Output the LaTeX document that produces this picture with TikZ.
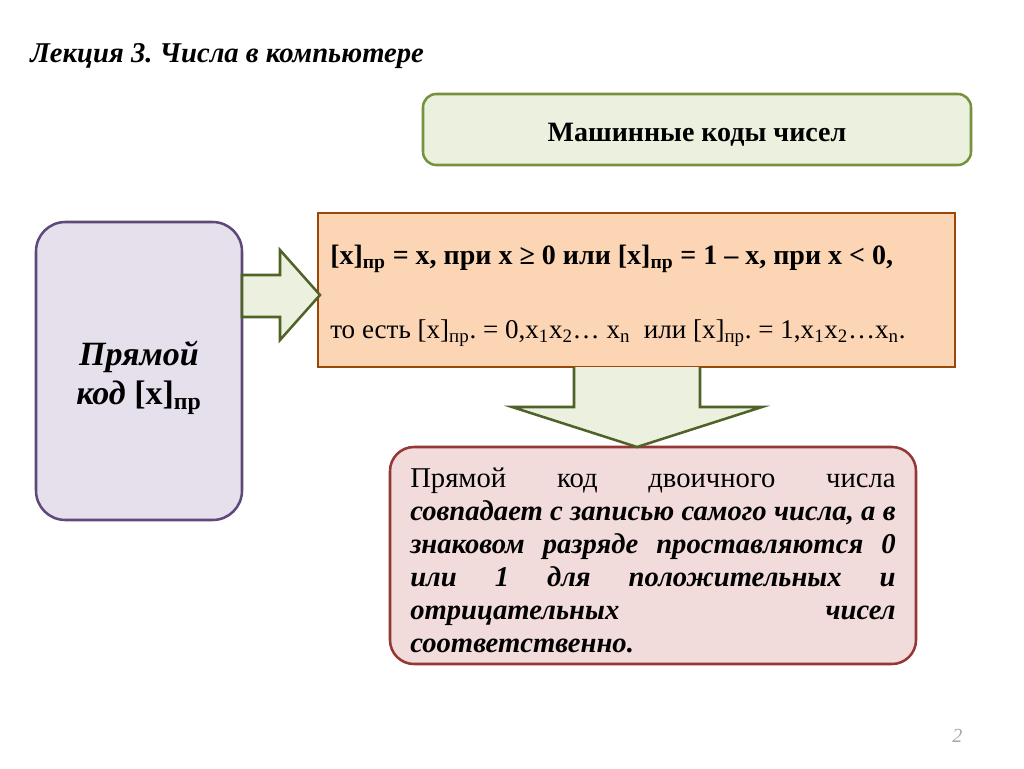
\documentclass[tikz,border=0pt]{standalone}
\usepackage{fontspec}
\setmainfont{Liberation Serif}
\frenchspacing
\definecolor{grfill}{HTML}{EBF1DE}
\definecolor{grline}{HTML}{76923C}
\definecolor{arline}{HTML}{4F6228}
\definecolor{pufill}{HTML}{E5E0EC}
\definecolor{puline}{HTML}{5F497A}
\definecolor{orfill}{HTML}{FCD5B5}
\definecolor{orline}{HTML}{984807}
\definecolor{rdfill}{HTML}{F2DCDB}
\definecolor{rdline}{HTML}{953735}
\definecolor{pgnum}{HTML}{A6A6A6}
\begin{document}
\begin{tikzpicture}[x=0.75pt,y=-0.75pt,
  box/.style={draw,line width=1.9pt,inner sep=0pt},
  blockarrow/.style={draw=arline,fill=grfill,line width=1.9pt,line join=miter},
  txt/.style={inner sep=0pt,anchor=base west}]
\useasboundingbox (0,0) rectangle (1024,768);
% boxes
\node[box,draw=grline,fill=grfill,rounded corners=10pt,minimum width=411pt,minimum height=53.25pt] (title2) at (697,129.5) {};
\node[box,draw=puline,fill=pufill,rounded corners=22pt,minimum width=154.5pt,minimum height=223.5pt] (direct) at (139,371) {};
\node[box,draw=orline,fill=orfill,minimum width=477.75pt,minimum height=115.5pt] (formula) at (636.5,290) {};
\node[box,draw=rdline,fill=rdfill,rounded corners=18pt,minimum width=394.5pt,minimum height=162.75pt] (remark) at (653,555.5) {};
% arrows
\draw[blockarrow] (242,275) -- (280,275) -- (280,250) -- (320,295) -- (280,340) -- (280,317) -- (242,317) -- cycle;
\draw[blockarrow] (574,367) -- (574,407) -- (512,407) -- (637,447) -- (762,407) -- (700,407) -- (700,367);
% texts
\node[txt] (lec) at (30,62) {\fontsize{21.5}{25}\selectfont\bfseries\itshape Лекция 3. Числа в компьютере};
\node[inner sep=0pt] (mk) at (697,135) {\fontsize{21}{25}\selectfont\bfseries Машинные коды чисел};
\node[inner sep=0pt,align=center,font=\fontsize{25.5}{29}\selectfont\bfseries\itshape] (pk) at (139,378) {Прямой\\код \upshape[x]\textsubscript{пр}};
\node[txt] (f1) at (330,264) {\fontsize{21}{25}\selectfont\bfseries [x]\textsubscript{пр} = x, при x ≥ 0 или [x]\textsubscript{пр} = 1 – x, при x < 0,};
\node[txt] (f2) at (330,338) {\fontsize{20.3}{25}\selectfont то есть [x]\textsubscript{пр}. = 0,x\textsubscript{1}x\textsubscript{2}… x\textsubscript{n}\ \ или [x]\textsubscript{пр}. = 1,x\textsubscript{1}x\textsubscript{2}…x\textsubscript{n}.};
\node[inner sep=0pt,anchor=north west] (rt) at (410,468) {\parbox[t]{364pt}{\fontsize{21.5}{24.75}\selectfont
Прямой код двоичного числа\linebreak
\bfseries\itshape совпадает с записью самого числа, а в\linebreak
знаковом разряде проставляются 0\linebreak
или 1 для положительных и\linebreak
отрицательных чисел\linebreak
соответственно.}};
\node[txt,text=pgnum] (pg) at (952,742) {\fontsize{15}{18}\selectfont\itshape 2};
\end{tikzpicture}
\end{document}
